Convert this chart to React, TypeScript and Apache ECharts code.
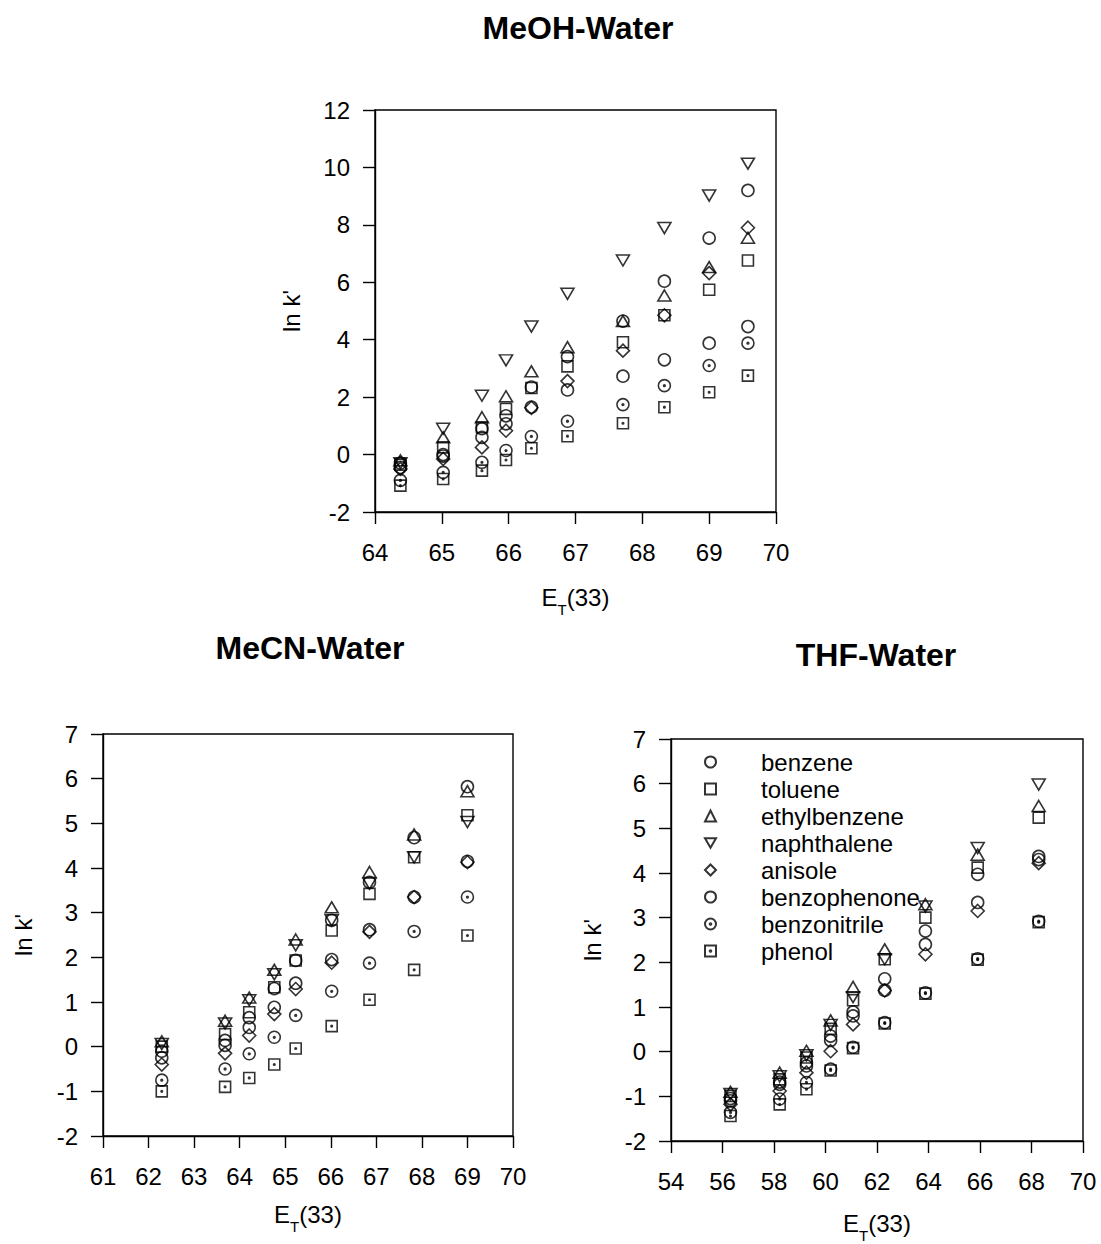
import React, { useEffect, useRef } from "react";
import * as echarts from "echarts";

// ---------- data ----------
const compounds = [
  "benzene",
  "toluene",
  "ethylbenzene",
  "naphthalene",
  "anisole",
  "benzophenone",
  "benzonitrile",
  "phenol",
];

// MeOH-Water panel
const meohET = [64.38, 65.02, 65.6, 65.96, 66.34, 66.88, 67.71, 68.33, 69.0, 69.58];
const meohBenzene = [-0.3, 0.0, 0.6, 1.07, 1.65, 2.25, 2.73, 3.3, 3.88, 4.46];
const meohToluene = [-0.35, 0.25, 0.95, 1.59, 2.32, 3.07, 3.91, 4.85, 5.74, 6.76];
const meohEthylbenzene = [-0.2, 0.6, 1.3, 2.03, 2.9, 3.74, 4.65, 5.54, 6.53, 7.55];
const meohNaphthalene = [-0.3, 0.9, 2.05, 3.28, 4.46, 5.6, 6.76, 7.89, 9.02, 10.13];
const meohAnisole = [-0.5, -0.15, 0.25, 0.83, 1.63, 2.56, 3.62, 4.85, 6.32, 7.9];
const meohBenzophenone = [-0.45, -0.05, 0.9, 1.35, 2.35, 3.41, 4.65, 6.04, 7.54, 9.2];
const meohBenzonitrile = [-0.9, -0.62, -0.27, 0.14, 0.63, 1.16, 1.74, 2.4, 3.1, 3.88];
const meohPhenol = [-1.08, -0.85, -0.56, -0.19, 0.22, 0.64, 1.09, 1.65, 2.17, 2.75];

// MeCN-Water panel
const mecnET = [62.29, 63.68, 64.21, 64.76, 65.23, 66.02, 66.85, 67.83, 69.0];
const mecnBenzene = [-0.25, 0.03, 0.43, 0.88, 1.42, 1.95, 2.62, 3.35, 4.15];
const mecnToluene = [0.0, 0.28, 0.77, 1.33, 1.93, 2.6, 3.42, 4.24, 5.18];
const mecnEthylbenzene = [0.12, 0.58, 1.1, 1.72, 2.4, 3.12, 3.91, 4.75, 5.72];
const mecnNaphthalene = [0.06, 0.52, 1.04, 1.62, 2.27, 2.83, 3.65, 4.24, 5.03];
const mecnAnisole = [-0.4, -0.15, 0.25, 0.73, 1.29, 1.88, 2.57, 3.35, 4.13];
const mecnBenzophenone = [-0.1, 0.14, 0.65, 1.3, 1.93, 2.83, 3.68, 4.68, 5.82];
const mecnBenzonitrile = [-0.75, -0.5, -0.16, 0.21, 0.7, 1.24, 1.87, 2.58, 3.35];
const mecnPhenol = [-1.0, -0.9, -0.7, -0.4, -0.04, 0.46, 1.05, 1.72, 2.49];

// THF-Water panel
const thfET = [56.31, 58.22, 59.26, 60.2, 61.07, 62.3, 63.88, 65.91, 68.28];
const thfBenzene = [-1.1, -0.73, -0.32, 0.25, 0.8, 1.37, 2.4, 3.34, 4.3];
const thfToluene = [-0.99, -0.62, -0.13, 0.51, 1.15, 2.07, 3.0, 4.12, 5.24];
const thfEthylbenzene = [-0.9, -0.47, 0.02, 0.7, 1.45, 2.29, 3.3, 4.41, 5.5];
const thfNaphthalene = [-0.95, -0.55, -0.08, 0.6, 1.22, 2.07, 3.25, 4.56, 5.98];
const thfAnisole = [-1.18, -0.88, -0.47, 0.01, 0.61, 1.37, 2.18, 3.15, 4.22];
const thfBenzophenone = [-1.05, -0.68, -0.25, 0.35, 0.89, 1.63, 2.7, 3.97, 4.37];
const thfBenzonitrile = [-1.36, -1.06, -0.69, -0.39, 0.1, 0.65, 1.32, 2.08, 2.92];
const thfPhenol = [-1.44, -1.18, -0.84, -0.42, 0.08, 0.63, 1.3, 2.06, 2.9];

const panelTitles = ["MeOH-Water", "MeCN-Water", "THF-Water"];
const xAxisName = "E{sub|T}(33)";
const yAxisName = "ln k'";

// ---------- styles ----------
const FONT = '"Liberation Sans", Arial, Helvetica, sans-serif';
const dotCircle =
  "path://M0,10A10,10 0 1 1 20,10A10,10 0 1 1 0,10Z M8.6,10A1.4,1.4 0 1 1 11.4,10A1.4,1.4 0 1 1 8.6,10Z";
const dotSquare =
  "path://M0,0L20,0L20,20L0,20Z M8.6,10A1.4,1.4 0 1 1 11.4,10A1.4,1.4 0 1 1 8.6,10Z";
const downTriangle = "path://M0,0L20,0L10,17Z";

const markerStyle: Record<string, { symbol: string; size: number | number[] }> = {
  benzene: { symbol: "circle", size: 12 },
  toluene: { symbol: "rect", size: 11 },
  ethylbenzene: { symbol: "triangle", size: [13, 11] },
  naphthalene: { symbol: downTriangle, size: [13, 11] },
  anisole: { symbol: "diamond", size: 13 },
  benzophenone: { symbol: "circle", size: 12 },
  benzonitrile: { symbol: dotCircle, size: 12 },
  phenol: { symbol: dotSquare, size: 11 },
};

const panels = [
  {
    x: meohET,
    values: [meohBenzene, meohToluene, meohEthylbenzene, meohNaphthalene, meohAnisole, meohBenzophenone, meohBenzonitrile, meohPhenol],
    grid: { left: 375, top: 110, width: 401, height: 402 },
    xMin: 64, xMax: 70, xInt: 1,
    yMin: -2, yMax: 12, yInt: 2,
    xNameGap: 66, yNameGap: 72,
  },
  {
    x: mecnET,
    values: [mecnBenzene, mecnToluene, mecnEthylbenzene, mecnNaphthalene, mecnAnisole, mecnBenzophenone, mecnBenzonitrile, mecnPhenol],
    grid: { left: 103, top: 734, width: 410, height: 402 },
    xMin: 61, xMax: 70, xInt: 1,
    yMin: -2, yMax: 7, yInt: 1,
    xNameGap: 59, yNameGap: 68,
  },
  {
    x: thfET,
    values: [thfBenzene, thfToluene, thfEthylbenzene, thfNaphthalene, thfAnisole, thfBenzophenone, thfBenzonitrile, thfPhenol],
    grid: { left: 671, top: 739, width: 412, height: 403 },
    xMin: 54, xMax: 70, xInt: 2,
    yMin: -2, yMax: 7, yInt: 1,
    xNameGap: 63, yNameGap: 67,
  },
];

const titlePos = [
  { x: 578, y: 28 },
  { x: 310, y: 648 },
  { x: 876, y: 655 },
];

export default function App() {
  const ref = useRef<HTMLDivElement>(null);

  useEffect(() => {
    if (!ref.current) return;
    const chart = echarts.init(ref.current, null, { renderer: "svg" });

    const axisLine = { show: true, onZero: false, lineStyle: { color: "#000", width: 1.4 } };
    const axisTick = { show: true, inside: false, length: 12, lineStyle: { color: "#000", width: 1.4 } };
    const axisLabelBase = { color: "#000", fontSize: 24, fontFamily: FONT };

    const grids = panels.map((p) => ({
      ...p.grid,
      show: true,
      borderColor: "#000",
      borderWidth: 1.4,
      backgroundColor: "transparent",
      containLabel: false,
    }));

    const xAxes = panels.map((p, i) => ({
      type: "value",
      gridIndex: i,
      min: p.xMin,
      max: p.xMax,
      interval: p.xInt,
      axisLine,
      axisTick,
      splitLine: { show: false },
      axisLabel: { ...axisLabelBase, margin: 28 },
      name: xAxisName,
      nameLocation: "middle",
      nameGap: p.xNameGap,
      nameMoveOverlap: false,
      nameTextStyle: {
        color: "#000",
        fontSize: 24,
        fontFamily: FONT,
        rich: {
          sub: { fontSize: 15, fontFamily: FONT, color: "#000", verticalAlign: "bottom", padding: [24, 0, 0, 0] },
        },
      },
    }));

    const yAxes = panels.map((p, i) => ({
      type: "value",
      gridIndex: i,
      min: p.yMin,
      max: p.yMax,
      interval: p.yInt,
      axisLine,
      axisTick,
      splitLine: { show: false },
      axisLabel: { ...axisLabelBase, margin: 25 },
      name: yAxisName,
      nameLocation: "middle",
      nameRotate: 90,
      nameGap: p.yNameGap,
      nameMoveOverlap: false,
      nameTextStyle: { color: "#000", fontSize: 24, fontFamily: FONT },
    }));

    const series: any[] = [];
    panels.forEach((p, pi) => {
      compounds.forEach((name, ci) => {
        const m = markerStyle[name];
        series.push({
          type: "scatter",
          name,
          xAxisIndex: pi,
          yAxisIndex: pi,
          data: p.x.map((xv, j) => [xv, p.values[ci][j]]),
          symbol: m.symbol,
          symbolSize: m.size,
          itemStyle: { color: "rgba(0,0,0,0)", borderColor: "#000", borderWidth: 1.6 },
          emphasis: { disabled: true },
          silent: true,
        });
      });
    });

    const graphic = panelTitles.map((t, i) => ({
      type: "text",
      x: titlePos[i].x,
      y: titlePos[i].y,
      style: {
        text: t,
        font: `bold 32px ${FONT}`,
        fill: "#000",
        align: "center",
        verticalAlign: "middle",
        textAlign: "center",
        textVerticalAlign: "middle",
      },
    }));

    chart.setOption({
      animation: false,
      backgroundColor: "#fff",
      textStyle: { fontFamily: FONT, color: "#000" },
      grid: grids,
      xAxis: xAxes,
      yAxis: yAxes,
      legend: {
        data: compounds,
        orient: "vertical",
        left: 704,
        top: 750,
        padding: 0,
        itemGap: 3,
        itemWidth: 11,
        itemHeight: 11,
        selectedMode: false,
        textStyle: { color: "#000", fontSize: 24, fontFamily: FONT, padding: [0, 0, 0, 40] },
      },
      graphic,
      series,
    });

    return () => chart.dispose();
  }, []);

  return (
    <div
      ref={ref}
      style={{ position: "fixed", left: 0, top: 0, width: 1101, height: 1244 }}
    />
  );
}
